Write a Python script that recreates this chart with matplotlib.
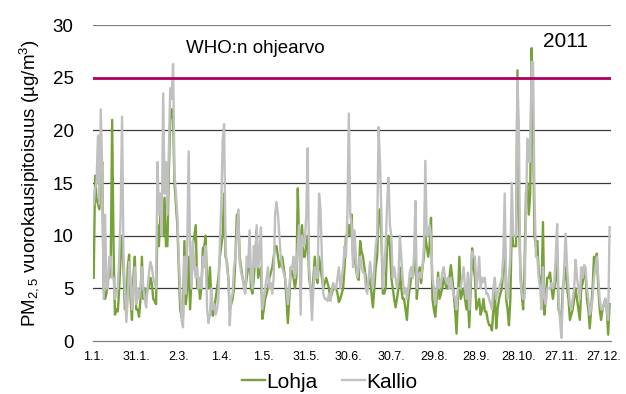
import matplotlib
matplotlib.use("Agg")
import matplotlib.pyplot as plt
import numpy as np

plt.rcParams['font.family'] = ['Liberation Sans', 'DejaVu Sans']
plt.rcParams['mathtext.fontset'] = 'custom'
plt.rcParams['mathtext.rm'] = 'Liberation Sans'
plt.rcParams['mathtext.it'] = 'Liberation Sans:italic'

# daily PM2.5, 1.1.-31.12.2011
lohja = [
    6, 15.7, 13.5, 13, 12.5, 15, 17, 5, 4, 4.5,
    6, 6, 7, 21, 9, 2.5, 3, 2.8, 5, 8,
    10, 7, 3, 3, 7, 8.2, 4, 2, 6, 8,
    3, 3, 2.3, 4, 8, 4, 5, 4, 5, 5,
    6, 5.5, 4, 3.8, 3.5, 11, 9, 12, 14, 10,
    13.6, 9, 9, 16, 21, 22, 21, 15, 13, 11,
    7, 3, 2.3, 2.3, 9.5, 3.5, 5, 8, 3, 6,
    9, 10, 11, 5, 6, 4, 5, 8.8, 9, 10,
    5, 5, 7, 4, 2.4, 3, 4, 5, 6, 8,
    9, 10, 14, 8, 7.5, 6, 3, 3.5, 4, 5,
    8, 12, 12, 8, 7, 6, 5.5, 5, 6, 7,
    8, 5, 4.5, 6, 8, 10.5, 6, 6.5, 7, 2.1,
    3, 4, 4.5, 5, 6, 6.5, 7, 8, 9, 9,
    8, 7, 7.5, 8, 7, 6, 4, 1.7, 4, 7,
    6.5, 6, 5, 6, 14.5, 9, 10, 11, 8, 8,
    9, 10, 6, 5, 4, 6, 8, 6, 5.5, 8,
    7, 6, 5, 5.5, 6, 5.5, 5, 4, 4.5, 5,
    5, 5, 4.5, 3.7, 4, 4.5, 5, 7, 10, 10,
    11, 10, 12, 8, 8, 7, 6, 5.8, 9.5, 8.5,
    8, 7, 6, 5, 5.5, 6, 4.5, 3.2, 5, 7,
    8, 12, 12.5, 10, 4.5, 4.5, 5, 9, 10, 9,
    6, 5, 4, 3.2, 4, 5, 7, 5, 4, 4,
    3, 2, 4, 5, 6, 6, 7, 8, 4, 6,
    7, 5.5, 7, 8, 10, 9, 8, 9, 11.7, 4,
    3, 2.3, 4, 6.5, 4, 4.5, 5, 6, 5.5, 5,
    5, 6, 7.2, 6, 4.5, 3, 0.7, 4, 8, 4,
    4.5, 5, 4, 3, 4, 1.3, 5, 8.8, 7, 6,
    3, 3.5, 4, 2.5, 3, 4, 2.8, 2.8, 2, 1.5,
    1.5, 1, 3, 5, 1.2, 3, 4, 4.5, 5, 7,
    10, 4, 3, 1.5, 4, 11, 9, 9, 9, 25.7,
    12, 7, 4.5, 3, 7, 14, 15, 12, 14, 27.8,
    20, 10, 9, 9.5, 6.5, 5.5, 5, 11.3, 2.5, 4,
    6, 6, 6.5, 5, 4, 5, 6, 8, 3, 2.5,
    2, 5, 6, 7, 5, 4, 2, 2.5, 3, 4,
    5, 4, 3, 2, 5, 5.5, 6.5, 6.5, 4, 3,
    1.2, 3, 5, 8, 7, 8.3, 5, 3, 2, 3,
    3.5, 4, 3, 0.6, 3.5,
]

kallio = [
    13, 14.5, 15, 19.5, 13, 22, 16, 4, 12, 5,
    5, 8, 8, 6, 6, 4, 4.5, 5, 8, 12,
    21.3, 8, 5, 1.8, 4, 7.5, 6, 3, 5, 7,
    3.5, 5, 4, 5, 7, 5, 4, 3.2, 5, 6.5,
    7.5, 7, 6, 5.5, 5, 17, 12, 14, 10, 23.5,
    14, 17, 12, 18, 24, 23, 26.3, 16, 14, 12,
    8, 5, 2, 1.3, 8, 4.5, 9, 18, 9, 5,
    9.5, 7, 6, 7, 5, 6, 5, 8, 7, 9,
    3, 1.7, 2.5, 5, 3, 3.5, 2.5, 3, 4, 9,
    13, 19, 20.6, 9, 7, 6, 1.5, 4, 4.5, 7,
    8, 10, 12.5, 7.5, 6.5, 6, 5, 4.5, 8, 7,
    10.5, 6, 5, 9, 7, 11, 7, 8, 10.8, 3,
    4, 5, 6, 7, 5, 5.5, 4.5, 6, 12, 13.2,
    12, 10, 8, 7, 6.5, 6, 5, 3.5, 5, 7,
    7, 8, 6, 7, 9, 11, 2.5, 10, 9, 9.5,
    12, 18.3, 7, 5, 2, 5, 7, 6, 6, 14,
    12.5, 8, 4.5, 4, 4, 3.8, 4.5, 3.8, 5, 5.5,
    5, 5, 6, 7, 5, 6, 7, 9, 8, 12,
    21.6, 12, 11, 7, 10.5, 8, 6, 7, 8, 7,
    6.5, 6.5, 5, 4.5, 6, 7.5, 6, 5, 7, 9,
    10, 20.3, 17, 12, 5, 7, 9, 13, 15.5, 11,
    10, 6, 7, 6, 5, 6, 10, 8, 6, 4.5,
    5, 4, 5, 6.5, 7, 6, 8, 13.3, 5, 6,
    6.5, 6, 7, 9, 17.1, 10, 10, 11, 10, 6,
    5, 3.5, 5, 6, 5, 5.5, 6.5, 7, 6, 5.5,
    6, 5, 6, 5, 4.5, 4, 3, 5, 5, 5,
    6, 7, 5, 4, 6.5, 3, 6, 8.5, 8, 8,
    5, 6, 8, 5, 6, 5.6, 6, 4.5, 4.5, 4,
    3.5, 3, 5, 6, 4, 4.5, 5, 5.5, 6, 8,
    14, 5, 4, 6, 8, 15, 10, 10, 10, 25,
    20, 6, 4.5, 4, 4, 12, 19.2, 17, 17, 26.5,
    26.5, 14, 8, 8, 6, 5, 3, 7, 4, 3.5,
    5, 5, 5, 5.5, 5, 5.5, 8, 11.1, 4, 2,
    0.3, 4, 7, 10.2, 7, 5, 3.5, 3, 4, 5,
    7.7, 6, 5, 4, 7, 6, 7.2, 7, 5, 4,
    2.5, 3, 4, 6, 7, 8, 6, 4, 3, 3,
    3.5, 4, 3, 2, 10.8,
]

tick_days = [0, 30, 60, 90, 120, 150, 180, 210, 240, 270, 300, 330, 360]
tick_labels = ['1.1.', '31.1.', '2.3.', '1.4.', '1.5.', '31.5.', '30.6.',
               '30.7.', '29.8.', '28.9.', '28.10.', '27.11.', '27.12.']
who_limit = 25

days = np.arange(len(lohja))

fig = plt.figure(figsize=(6.26, 3.94), dpi=100)
ax = fig.add_axes([93 / 626, 1 - 341 / 394, 518 / 626, 316 / 394])

for y in range(5, 35, 5):
    ax.axhline(y, color='#3a3a3a' if y < 30 else '#7f7f7f', lw=0.9, zorder=1)

ax.plot(days, lohja, color='#77A23A', lw=1.7, label='Lohja', zorder=3)
ax.plot(days, kallio, color='#C0C0C0', lw=1.7, label='Kallio', zorder=4)
ax.axhline(who_limit, color='#B0005E', lw=2.0, zorder=5)

ax.text(65, 27.8, 'WHO:n ohjearvo', fontsize=13.5, va='center', ha='left')
ax.text(317, 28.4, '2011', fontsize=15, va='center', ha='left')

ax.set_xlim(-0.5, 365)
ax.set_ylim(0, 30)
ax.set_yticks(range(0, 35, 5))
ax.set_xticks(tick_days)
ax.set_xticklabels(tick_labels, fontsize=9)
ax.tick_params(axis='y', length=0, pad=14, labelsize=13.5)
ax.tick_params(axis='x', length=0, pad=7)

for s in ['top', 'right', 'left']:
    ax.spines[s].set_visible(False)
ax.spines['bottom'].set_color('#7f7f7f')
ax.spines['bottom'].set_linewidth(0.9)

ax.set_ylabel(r'PM$_{\mathrm{2,5}}$ vuorokausipitoisuus (µg/m$^{\mathrm{3}}$)',
              fontsize=13.5, labelpad=8)

fig.legend(loc='center', bbox_to_anchor=(0.527, 0.03), ncol=2,
           frameon=False, fontsize=15, handlelength=1.1, handletextpad=0.05,
           columnspacing=1.2)

fig.savefig('out.png', dpi=100)
